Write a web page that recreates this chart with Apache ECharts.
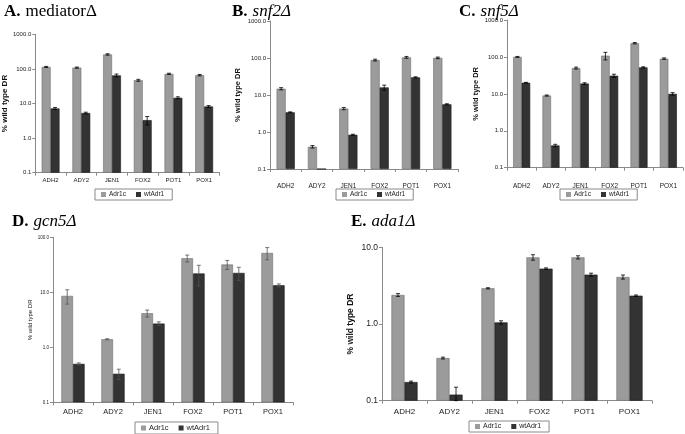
<!DOCTYPE html>
<html><head><meta charset="utf-8">
<script src="https://cdn.jsdelivr.net/npm/echarts@6/dist/echarts.min.js"></script>
<style>html,body{margin:0;padding:0;background:#fff}#c{width:685px;height:434px}</style>
</head><body><div id="c"></div>
<script>
// ---------- data ----------
const categories = ['ADH2', 'ADY2', 'JEN1', 'FOX2', 'POT1', 'POX1'];
const seriesNames = ['Adr1c', 'wtAdr1'];
const yAxisName = '% wild type DR';

const panelA_adr1c = [114, 109, 262, 47, 72, 66];
const panelA_wtAdr1 = [7.2, 5.3, 65, 3.3, 14.6, 8.2];
const panelA_adr1c_err = [4, 4, 12, 3, 3, 3];
const panelA_wtAdr1_err = [0.5, 0.3, 6, 0.9, 1, 0.5];

const panelB_adr1c = [14.8, 0.4, 4.3, 88, 104, 101];
const panelB_wtAdr1 = [3.4, 0.1, 0.84, 16, 30, 5.6];
const panelB_adr1c_err = [1, 0.03, 0.3, 5, 6, 5];
const panelB_wtAdr1_err = [0.1, 0, 0.03, 2.5, 1, 0.2];

const panelC_adr1c = [100, 9, 50, 108, 235, 90];
const panelC_wtAdr1 = [20, 0.4, 19, 31, 52, 10];
const panelC_adr1c_err = [3, 0.3, 3, 25, 10, 4];
const panelC_wtAdr1_err = [0.5, 0.03, 1, 3, 2, 0.8];

const panelD_adr1c = [8.6, 1.4, 4.15, 41.5, 32, 52];
const panelD_wtAdr1 = [0.5, 0.33, 2.7, 22, 22.5, 13.4];
const panelD_adr1c_err = [2.5, 0.03, 0.6, 6, 6, 13];
const panelD_wtAdr1_err = [0.02, 0.07, 0.2, 9, 6, 0.8];

const panelE_adr1c = [2.39, 0.36, 2.92, 7.4, 7.4, 4.1];
const panelE_wtAdr1 = [0.175, 0.12, 1.05, 5.27, 4.4, 2.34];
const panelE_adr1c_err = [0.1, 0.01, 0.05, 0.6, 0.35, 0.25];
const panelE_wtAdr1_err = [0.005, 0.03, 0.05, 0.12, 0.2, 0.05];

const titleLetters = ['A.', 'B.', 'C.', 'D.', 'E.'];
const titleNames = ['mediator\u0394', 'snf2\u0394', 'snf5\u0394', 'gcn5\u0394', 'ada1\u0394'];
const yMax = [1000, 1000, 1000, 100, 10];
const yMin = 0.1;

// ---------- layout / style ----------
const panels = [
  {a: panelA_adr1c, w: panelA_wtAdr1, ae: panelA_adr1c_err, we: panelA_wtAdr1_err,
   grid: {left: 33.5, top: 34.3, width: 186, height: 138.4}, italic: false,
   title: {left: 4, top: 3}, tickFs: 6, catFs: 6, catMargin: 5, nameFs: 8, nameBold: true, nameGap: 24,
   legend: {left: 95, top: 189}, legFs: 6.5, errColor: '#000'},
  {a: panelB_adr1c, w: panelB_wtAdr1, ae: panelB_adr1c_err, we: panelB_wtAdr1_err,
   grid: {left: 270, top: 21, width: 188, height: 148}, italic: true,
   title: {left: 232, top: 3}, tickFs: 6, catFs: 6.5, catMargin: 14, nameFs: 7.5, nameBold: true, nameGap: 28,
   legend: {left: 336, top: 189}, legFs: 6.5, errColor: '#000'},
  {a: panelC_adr1c, w: panelC_wtAdr1, ae: panelC_adr1c_err, we: panelC_wtAdr1_err,
   grid: {left: 507, top: 20, width: 176, height: 147.7}, italic: true,
   title: {left: 459, top: 3}, tickFs: 6, catFs: 6.5, catMargin: 15, nameFs: 7.5, nameBold: true, nameGap: 27,
   legend: {left: 560, top: 189}, legFs: 6.5, errColor: '#000'},
  {a: panelD_adr1c, w: panelD_wtAdr1, ae: panelD_adr1c_err, we: panelD_wtAdr1_err,
   grid: {left: 53, top: 237.3, width: 240, height: 165}, italic: true,
   title: {left: 12, top: 213}, tickFs: 4.5, catFs: 7.5, catMargin: 6, nameFs: 6, nameBold: false, nameGap: 17,
   legend: {left: 135, top: 422}, legFs: 7.5, errColor: '#555'},
  {a: panelE_adr1c, w: panelE_wtAdr1, ae: panelE_adr1c_err, we: panelE_wtAdr1_err,
   grid: {left: 382, top: 247.3, width: 270, height: 153.4}, italic: true,
   title: {left: 351, top: 213}, tickFs: 8.5, catFs: 8, catMargin: 7, nameFs: 8.5, nameBold: true, nameGap: 27,
   legend: {left: 469, top: 421}, legFs: 7, errColor: '#000'}
];

const GRAY = '#9b9b9b', GRAY_EDGE = '#6e6e6e', DARK = '#333333', DARK_EDGE = '#1a1a1a';
const AXIS_COLOR = '#8a8a8a';
const BAR_FRAC = 0.29;
const SANS = 'Liberation Sans, Arial, sans-serif';
const SERIF = 'Liberation Serif, Times New Roman, serif';

function errRender(sign, color) {
  return function (params, api) {
    const xi = api.value(0), v = api.value(1), e = api.value(2);
    if (!(e > 0)) return null;
    const band = api.size([1, 1])[0];
    const dx = sign * band * BAR_FRAC / 2;
    const lo = Math.max(v - e, yMin * 1.001);
    const p1 = api.coord([xi, v + e]);
    const p2 = api.coord([xi, lo]);
    const x = p1[0] + dx, cap = 2;
    const st = {stroke: color, lineWidth: 0.8};
    return {type: 'group', children: [
      {type: 'line', shape: {x1: x, y1: p1[1], x2: x, y2: p2[1]}, style: st},
      {type: 'line', shape: {x1: x - cap, y1: p1[1], x2: x + cap, y2: p1[1]}, style: st},
      {type: 'line', shape: {x1: x - cap, y1: p2[1], x2: x + cap, y2: p2[1]}, style: st}
    ]};
  };
}

const option = {animation: false, backgroundColor: '#fff',
  title: [], grid: [], xAxis: [], yAxis: [], legend: [], series: []};

panels.forEach((p, i) => {
  option.title.push({
    left: p.title.left, top: p.title.top, padding: 0,
    text: '{l|' + titleLetters[i] + '} {n|' + titleNames[i] + '}',
    textStyle: {rich: {
      l: {fontFamily: SERIF, fontWeight: 'bold', fontSize: 17, color: '#000'},
      n: {fontFamily: SERIF, fontWeight: 'normal', fontStyle: p.italic ? 'italic' : 'normal', fontSize: 17, color: '#000'}
    }}
  });
  option.grid.push(Object.assign({containLabel: false}, p.grid));
  option.xAxis.push({
    type: 'category', gridIndex: i, data: categories, boundaryGap: true,
    axisLine: {lineStyle: {color: AXIS_COLOR, width: 1}},
    axisTick: {show: true, length: 3, lineStyle: {color: AXIS_COLOR}},
    axisLabel: {fontFamily: SANS, fontSize: p.catFs, color: '#222', margin: p.catMargin, interval: 0}
  });
  option.yAxis.push({
    type: 'log', logBase: 10, gridIndex: i, min: yMin, max: yMax[i], startValue: yMin,
    name: yAxisName, nameLocation: 'middle', nameRotate: 90, nameGap: p.nameGap,
    nameTextStyle: {fontFamily: SANS, fontSize: p.nameFs, fontWeight: p.nameBold ? 'bold' : 'normal', color: '#111'},
    axisLine: {show: true, lineStyle: {color: AXIS_COLOR, width: 1}},
    axisTick: {show: true, inside: false, length: 3, lineStyle: {color: AXIS_COLOR}},
    splitLine: {show: false}, minorTick: {show: false},
    axisLabel: {fontFamily: SANS, fontSize: p.tickFs, color: '#222', margin: 4,
      formatter: v => Number(v).toFixed(1)}
  });
  option.legend.push({
    left: p.legend.left, top: p.legend.top, orient: 'horizontal',
    data: seriesNames.map((n, k) => ({name: n, itemStyle: {color: k ? DARK : GRAY, borderWidth: 0}})),
    icon: 'rect', itemWidth: 5, itemHeight: 5, itemGap: 10,
    borderColor: '#8a8a8a', borderWidth: 1, padding: [2, 8, 2, 6], selectedMode: false,
    textStyle: {fontFamily: SANS, fontSize: p.legFs, color: '#222', padding: [0, 0, 0, -2]}
  });
  option.series.push({
    name: seriesNames[0], type: 'bar', xAxisIndex: i, yAxisIndex: i, data: p.a,
    barGap: '0%', barCategoryGap: (100 - 200 * BAR_FRAC) + '%',
    itemStyle: {color: GRAY, borderColor: GRAY_EDGE, borderWidth: 0.6}, clip: true
  });
  option.series.push({
    name: seriesNames[1], type: 'bar', xAxisIndex: i, yAxisIndex: i, data: p.w,
    barGap: '0%', barCategoryGap: (100 - 200 * BAR_FRAC) + '%',
    itemStyle: {color: DARK, borderColor: DARK_EDGE, borderWidth: 0.6}, clip: true
  });
  option.series.push({
    type: 'custom', xAxisIndex: i, yAxisIndex: i, renderItem: errRender(-1, p.errColor), z: 5,
    data: p.a.map((v, k) => [k, v, p.ae[k]]), silent: true, tooltip: {show: false}
  });
  option.series.push({
    type: 'custom', xAxisIndex: i, yAxisIndex: i, renderItem: errRender(1, p.errColor), z: 5,
    data: p.w.map((v, k) => [k, v, p.we[k]]), silent: true, tooltip: {show: false}
  });
});

const chart = echarts.init(document.getElementById('c'), null, {renderer: 'canvas'});
chart.setOption(option);
</script></body></html>
